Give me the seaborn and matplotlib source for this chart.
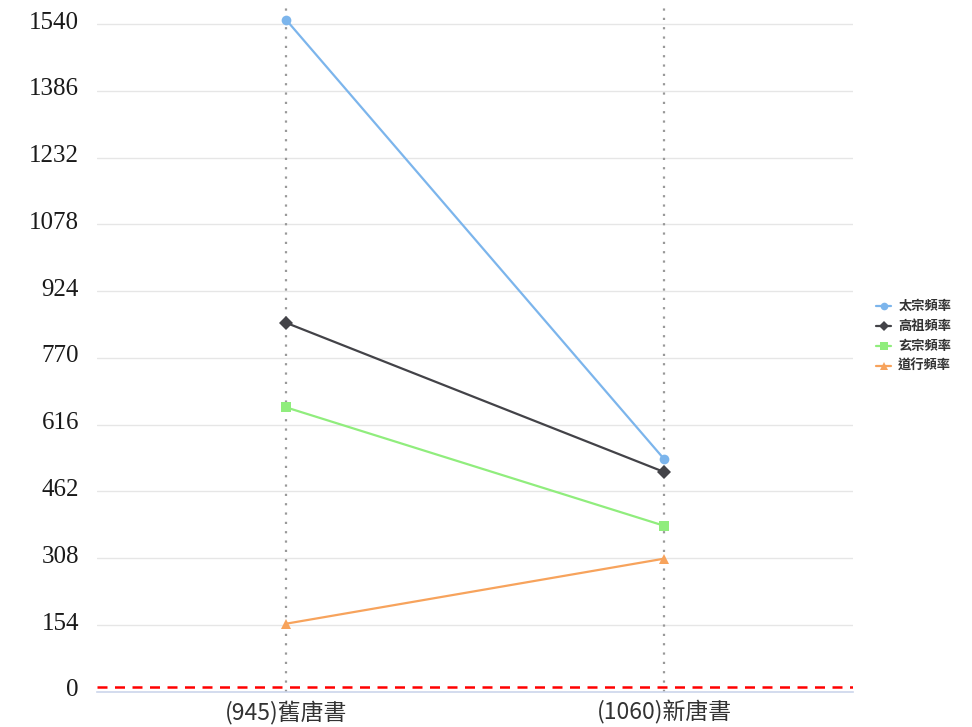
import matplotlib
matplotlib.use("Agg")
import matplotlib.pyplot as plt
import matplotlib.transforms as mtransforms
from matplotlib.lines import Line2D
import seaborn as sns
import pandas as pd

categories = ["(945)舊唐書", "(1060)新唐書"]
series_names = ["太宗頻率", "高祖頻率", "玄宗頻率", "道行頻率"]
taizong = [1550, 537]
gaozu = [851, 507]
xuanzong = [656, 383]
daoxing = [157, 307]
y_ticks = [0, 154, 308, 462, 616, 770, 924, 1078, 1232, 1386, 1540]
ref_line_value = 10

colors = ["#7cb5ec", "#434348", "#90ed7d", "#f7a35c"]
markers = ["o", "D", "s", "^"]

values = [taizong, gaozu, xuanzong, daoxing]
rows = []
for name, vals in zip(series_names, values):
    for cat, v in zip(categories, vals):
        rows.append({"book": cat, "count": v, "series": name})
df = pd.DataFrame(rows)

sns.set_theme(style="white")
plt.rcParams["font.family"] = ["Noto Sans CJK TC", "DejaVu Sans"]

fig = plt.figure(figsize=(9.72, 7.27), dpi=100)
ax = fig.add_axes([97 / 972, 1 - 691.8 / 727, 756 / 972, (691.8 - 8) / 727])

# grid lines
for t in y_ticks[1:]:
    ax.axhline(t, color="#e6e6e6", lw=1.0, zorder=0)

# vertical dotted lines at categories
for i in range(len(categories)):
    ax.axvline(i, color="#999999", lw=1.6, ls=(0, (1, 3.2)), zorder=1)

sns.lineplot(
    data=df, x="book", y="count", hue="series", style="series",
    hue_order=series_names, style_order=series_names,
    palette=colors, markers=markers, dashes=False, ax=ax,
    linewidth=1.6, markersize=7, markeredgewidth=0, sort=False, zorder=3,
    legend=False,
)

# red dashed reference line
ax.axhline(ref_line_value, color="#ff0000", lw=1.8, ls=(0, (4, 3)), zorder=4)

ax.set_xlim(-0.5, 1.5)
ax.set_ylim(0, (691.8 - 8) / (691.8 - 24) * 1540)
ax.set_xlabel("")
ax.set_ylabel("")

ax.set_yticks(y_ticks)
ax.set_yticklabels([str(t) for t in y_ticks], fontsize=18, color="#1a1a1a",
                   family=["Liberation Serif", "DejaVu Serif"])
ax.tick_params(axis="y", length=0, pad=13)
offset = mtransforms.ScaledTranslation(0, 4 / 100, fig.dpi_scale_trans)
for lab in ax.get_yticklabels():
    lab.set_transform(lab.get_transform() + offset)

ax.set_xticks(range(len(categories)))
ax.set_xticklabels(categories, fontsize=16.5, color="#333333")
ax.tick_params(axis="x", which="major", length=0, pad=6)
ax.set_xticks([-0.5, 0.5, 1.5], minor=True)
ax.tick_params(axis="x", which="minor", length=10, width=1, color="#ccd6eb",
               direction="out")

for side in ["left", "right", "top"]:
    ax.spines[side].set_visible(False)
ax.spines["bottom"].set_color("#ccd6eb")
ax.spines["bottom"].set_linewidth(1.2)

handles = [Line2D([0], [0], color=c, marker=m, lw=1.6, markersize=5.5,
                  markeredgewidth=0) for c, m in zip(colors, markers)]
leg = ax.legend(
    handles, series_names, loc="center left", bbox_to_anchor=(1.024, 0.52),
    frameon=False, prop={"size": 9.5, "weight": "bold",
                         "family": ["Noto Sans CJK TC", "DejaVu Sans"]},
    handlelength=1.1, handletextpad=0.55, labelspacing=0.45,
    borderaxespad=0,
)
for t in leg.get_texts():
    t.set_color("#333333")

fig.savefig("out.png", dpi=100)
